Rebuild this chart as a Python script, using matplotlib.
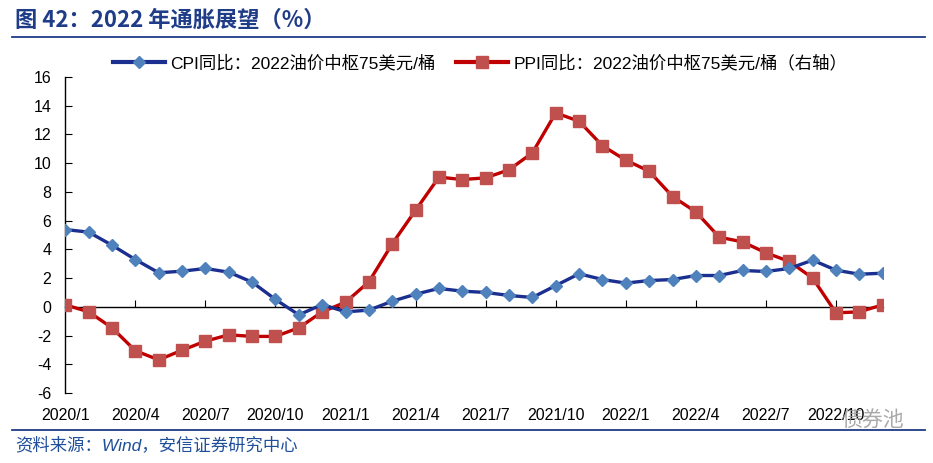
import matplotlib
matplotlib.use("Agg")
import matplotlib.pyplot as plt
import matplotlib.transforms as mtransforms
from matplotlib.lines import Line2D

plt.rcParams["font.family"] = ["Liberation Sans", "Noto Sans CJK SC", "DejaVu Sans"]
plt.rcParams["axes.unicode_minus"] = False

# monthly data, 2020/1 .. 2022/12
MONTHS = [f"{y}/{m}" for y in (2020, 2021, 2022) for m in range(1, 13)]

CPI = [5.38, 5.2, 4.29, 3.29, 2.37, 2.48, 2.67, 2.41, 1.72, 0.51, -0.56, 0.16,
       -0.35, -0.23, 0.39, 0.88, 1.28, 1.09, 1.0, 0.79, 0.65, 1.48, 2.30, 1.90,
       1.65, 1.83, 1.90, 2.18, 2.18, 2.53, 2.46, 2.67, 3.25, 2.55, 2.27, 2.34]

PPI = [0.14, -0.35, -1.46, -3.06, -3.69, -3.02, -2.39, -1.95, -2.06, -2.06, -1.46, -0.35,
       0.32, 1.74, 4.39, 6.73, 9.03, 8.86, 8.98, 9.54, 10.72, 13.50, 12.92, 11.21,
       10.21, 9.44, 7.68, 6.61, 4.85, 4.52, 3.76, 3.16, 2.0, -0.42, -0.35, 0.14]

CPI_LABEL = "CPI同比：2022油价中枢75美元/桶"
PPI_LABEL = "PPI同比：2022油价中枢75美元/桶（右轴）"
TITLE = "图 42：2022 年通胀展望（%）"
SOURCE = "资料来源：Wind，安信证券研究中心"

NAVY = "#1F3C88"
MIXED = ["Liberation Sans", "Noto Sans CJK SC", "DejaVu Sans"]
CJK = ["Noto Sans CJK SC", "DejaVu Sans"]

fig = plt.figure(figsize=(9.33, 4.63), dpi=100)
ax = fig.add_axes([65.3 / 933, 1 - 393 / 463, (882.7 - 65.3) / 933, (393 - 77) / 463])

x = list(range(len(MONTHS)))
ax.plot(x, PPI, color="#C00000", lw=2.4, marker="s", ms=8.5,
        mfc="#C0504D", mec="#C0504D", zorder=3)
ax.plot(x, CPI, color="#1A2F8F", lw=2.4, marker="D", ms=6,
        mfc="#4F81BD", mec="#4F81BD", zorder=4)

ax.set_xlim(0, len(MONTHS) - 1)
ax.set_ylim(-6, 16)
ax.set_yticks(range(-6, 17, 2))
ax.tick_params(axis="y", direction="in", length=5, labelsize=11.5, pad=10)

for s in ("top", "right"):
    ax.spines[s].set_visible(False)
ax.spines["left"].set_linewidth(1.0)
ax.spines["bottom"].set_position(("data", 0))
ax.spines["bottom"].set_linewidth(1.0)

tick_pos = x[::3]
ax.set_xticks(tick_pos)
ax.tick_params(axis="x", direction="in", length=5, labelbottom=False)
trans = mtransforms.blended_transform_factory(ax.transData, fig.transFigure)
for p in tick_pos:
    ax.text(p, 1 - 415 / 463, MONTHS[p], transform=trans, ha="center", va="center",
            fontsize=11.5)

# legend
handles = [
    Line2D([], [], color="#1A2F8F", lw=3, marker="D", ms=6, mfc="#4F81BD", mec="#4F81BD"),
    Line2D([], [], color="#C00000", lw=3, marker="s", ms=8.5, mfc="#C0504D", mec="#C0504D"),
]
fig.legend(handles, [CPI_LABEL, PPI_LABEL], loc="center", ncol=2,
           bbox_to_anchor=(480 / 933, 1 - 63 / 463), frameon=False,
           prop={"family": MIXED, "size": 12.5}, handlelength=3.0, columnspacing=1.2,
           handletextpad=0.3)

# title and rules
fig.text(15 / 933, 1 - 20 / 463, TITLE, fontsize=16, fontweight="bold", color=NAVY,
         family=CJK, ha="left", va="center")
fig.add_artist(Line2D([12 / 933, 925 / 933], [1 - 37 / 463] * 2, color=NAVY, lw=1.3))
fig.add_artist(Line2D([12 / 933, 925 / 933], [1 - 429.5 / 463] * 2, color=NAVY, lw=1.3))
fig.text(15 / 933, 1 - 445 / 463, SOURCE, fontsize=12.5, style="italic", color="#1F4E9A",
         family=MIXED, ha="left", va="center")

# watermark
fig.text(872 / 933, 1 - 420 / 463, "债券池", fontsize=15, color="#9A9A9A", alpha=0.85,
         family=CJK, ha="center", va="center")

fig.savefig("out.png", dpi=100)
